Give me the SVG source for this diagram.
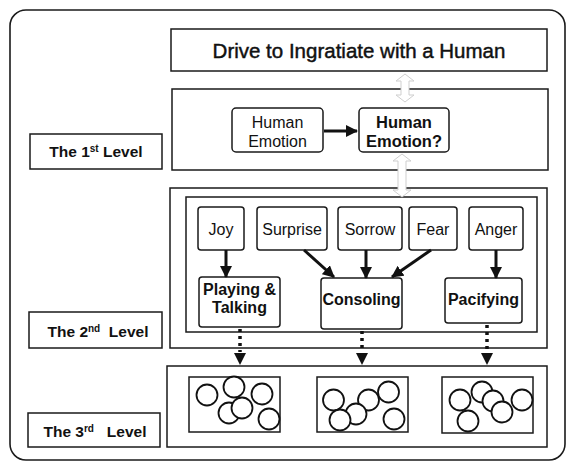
<svg xmlns="http://www.w3.org/2000/svg" width="568" height="463" viewBox="0 0 568 463">
<defs>
<style>
.frame{fill:#fff;stroke:#1a1a1a;stroke-width:1.6}
.box{fill:#fff;stroke:#1a1a1a;stroke-width:1.5}
.rbox{fill:#fff;stroke:#1a1a1a;stroke-width:1.5}
.t{font-family:"Liberation Sans",Arial,sans-serif;fill:#111;text-anchor:middle}
.b{font-weight:bold}
.arr{stroke:#111;stroke-width:3;fill:none}
.dot{stroke:#111;stroke-width:3.5;stroke-dasharray:3 4;fill:none}
.head{fill:#111}
.c{fill:#fff;stroke:#111;stroke-width:1.8}
.ghost{fill:#fff;stroke:#cfcfcf;stroke-width:1}
</style>
<marker id="ah" viewBox="0 0 12 12" refX="11" refY="6" markerWidth="12" markerHeight="12" markerUnits="userSpaceOnUse" orient="auto">
<path d="M0,0 L12,6 L0,12 Z" fill="#111"/>
</marker>
</defs>

<rect class="frame" x="10" y="10" width="555" height="450" rx="16"/>

<g id="drive">
<rect class="box" x="171" y="29" width="376" height="42"/>
<text class="t" x="359" y="58" font-size="20.5" stroke="#111" stroke-width="0.45">Drive to Ingratiate with a Human</text>
</g>

<g id="level1">
<rect class="box" x="172" y="89" width="376" height="81"/>
</g>

<g id="human-emotion">
<rect class="rbox" x="232" y="108" width="91" height="44" rx="4"/>
<text class="t" x="277.5" y="127.5" font-size="16">Human</text>
<text class="t" x="277.5" y="147" font-size="16">Emotion</text>
</g>

<g id="human-emotion-q">
<rect class="rbox" x="359" y="108" width="90" height="44" rx="4"/>
<text class="t b" x="404" y="127.5" font-size="16.5">Human</text>
<text class="t b" x="404" y="147" font-size="16.5">Emotion?</text>
</g>

<g id="label1">
<rect class="box" x="30" y="134" width="132" height="35"/>
<text class="t b" x="96" y="157" font-size="15.5">The 1<tspan font-size="10" dy="-5">st</tspan><tspan dy="5"> Level</tspan></text>
</g>

<g id="level2">
<rect class="box" x="170" y="188" width="377" height="160"/>
<rect class="box" x="186" y="197" width="351" height="135"/>
</g>

<g id="joy"><rect class="rbox" x="198" y="207" width="46" height="43" rx="3"/><text class="t" x="221" y="235" font-size="16">Joy</text></g>
<g id="surprise"><rect class="rbox" x="257" y="207" width="70" height="43" rx="3"/><text class="t" x="292" y="235" font-size="16">Surprise</text></g>
<g id="sorrow"><rect class="rbox" x="338" y="207" width="64" height="43" rx="3"/><text class="t" x="370" y="235" font-size="16">Sorrow</text></g>
<g id="fear"><rect class="rbox" x="409" y="207" width="48" height="43" rx="3"/><text class="t" x="433" y="235" font-size="16">Fear</text></g>
<g id="anger"><rect class="rbox" x="469" y="207" width="54" height="43" rx="3"/><text class="t" x="496" y="235" font-size="16">Anger</text></g>

<g id="playing"><rect class="rbox" x="199" y="277" width="81" height="50" rx="3"/><text class="t b" x="239.5" y="295" font-size="16">Playing &amp;</text><text class="t b" x="239.5" y="313" font-size="16">Talking</text></g>
<g id="consoling"><rect class="rbox" x="321" y="278" width="81" height="51" rx="3"/><text class="t b" x="361.5" y="305" font-size="16">Consoling</text></g>
<g id="pacifying"><rect class="rbox" x="445" y="278" width="77" height="45" rx="3"/><text class="t b" x="483.5" y="305" font-size="16">Pacifying</text></g>

<g id="label2">
<rect class="box" x="29" y="312" width="133" height="36"/>
<text class="t b" x="98" y="337" font-size="15.5" xml:space="preserve">The 2<tspan font-size="10" dy="-5">nd</tspan><tspan dy="5">  Level</tspan></text>
</g>

<g id="level3">
<rect class="box" x="167" y="366" width="380" height="81"/>
</g>

<g id="cluster1">
<rect class="box" x="189" y="377" width="91" height="55"/>
<circle class="c" cx="207" cy="395" r="10.5"/>
<circle class="c" cx="234" cy="387" r="10.5"/>
<circle class="c" cx="262" cy="394" r="10.5"/>
<circle class="c" cx="229" cy="413" r="10.5"/>
<circle class="c" cx="242" cy="408" r="10.5"/>
<circle class="c" cx="269" cy="419" r="10.5"/>
</g>
<g id="cluster2">
<rect class="box" x="317" y="377" width="91" height="55"/>
<circle class="c" cx="333.5" cy="400" r="10.5"/>
<circle class="c" cx="368.5" cy="400" r="10.5"/>
<circle class="c" cx="388.5" cy="392" r="10.5"/>
<circle class="c" cx="356" cy="414" r="10.5"/>
<circle class="c" cx="340" cy="420" r="10.5"/>
<circle class="c" cx="394" cy="419" r="10.5"/>
</g>
<g id="cluster3">
<rect class="box" x="442" y="377" width="91" height="56"/>
<circle class="c" cx="460" cy="400" r="10.5"/>
<circle class="c" cx="482" cy="392" r="10.5"/>
<circle class="c" cx="493" cy="401" r="10.5"/>
<circle class="c" cx="522" cy="400" r="10.5"/>
<circle class="c" cx="502" cy="412" r="10.5"/>
<circle class="c" cx="468" cy="421" r="10.5"/>
</g>

<g id="label3">
<rect class="box" x="28" y="413" width="132" height="34"/>
<text class="t b" x="95" y="437" font-size="15.5" xml:space="preserve">The 3<tspan font-size="10" dy="-5">rd</tspan><tspan dy="5">   Level</tspan></text>
</g>

<g id="connectors">
<path class="ghost" d="M405,74 L414,81 L409,81 L409,95 L414,95 L405,102 L396,95 L401,95 L401,81 L396,81 Z"/>
<path class="ghost" d="M402,154 L411,161 L406,161 L406,190 L411,190 L402,197 L393,190 L398,190 L398,161 L393,161 Z"/>
<line class="arr" x1="324" y1="131" x2="357" y2="131" marker-end="url(#ah)"/>
<line class="arr" x1="226" y1="250" x2="226" y2="277" marker-end="url(#ah)"/>
<line class="arr" x1="304" y1="250" x2="334" y2="277" marker-end="url(#ah)"/>
<line class="arr" x1="366" y1="250" x2="366" y2="278" marker-end="url(#ah)"/>
<line class="arr" x1="431" y1="250" x2="392" y2="277" marker-end="url(#ah)"/>
<line class="arr" x1="496" y1="250" x2="496" y2="278" marker-end="url(#ah)"/>
<line class="dot" x1="240" y1="329" x2="240" y2="352"/>
<path class="head" d="M234,353 L246,353 L240,365 Z"/>
<line class="dot" x1="362" y1="331" x2="362" y2="352"/>
<path class="head" d="M356,353 L368,353 L362,365 Z"/>
<line class="dot" x1="487" y1="325" x2="487" y2="352"/>
<path class="head" d="M481,353 L493,353 L487,365 Z"/>
</g>
</svg>
